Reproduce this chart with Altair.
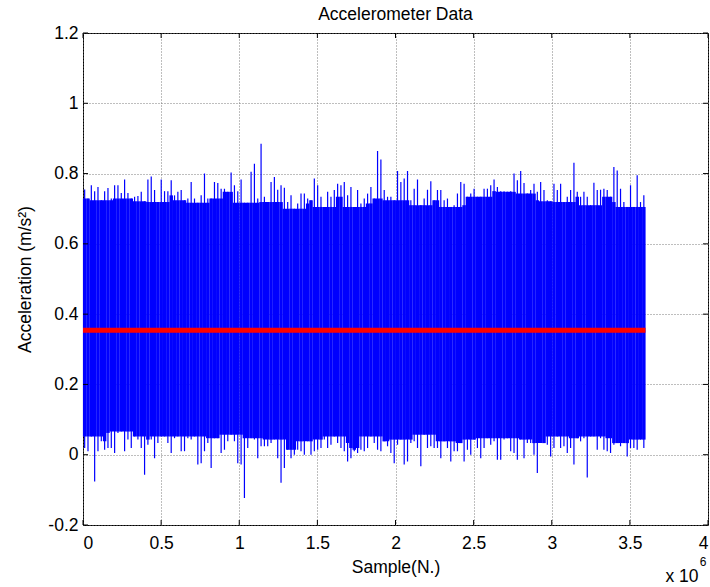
import altair as alt
import pandas as pd

# Upper envelope of the signal (per ~21,000-sample column)
upper = [
    0.755, 0.729, 0.767, 0.750, 0.762, 0.724, 0.750, 0.759, 0.729, 0.767,
    0.767, 0.745, 0.783, 0.745, 0.729, 0.734, 0.736, 0.748, 0.721, 0.783,
    0.792, 0.753, 0.719, 0.783, 0.750, 0.750, 0.781, 0.738, 0.748, 0.753,
    0.724, 0.729, 0.776, 0.729, 0.717, 0.738, 0.800, 0.729, 0.729, 0.776,
    0.773, 0.757, 0.757,
    0.748, 0.803, 0.767, 0.750, 0.783, 0.717, 0.717, 0.805, 0.828, 0.729,
    0.885, 0.734, 0.719, 0.776, 0.790, 0.754, 0.767, 0.760, 0.719, 0.738,
    0.700, 0.715, 0.743, 0.743, 0.729, 0.724, 0.786, 0.767, 0.734, 0.705,
    0.748, 0.734, 0.753, 0.771, 0.767, 0.776, 0.738, 0.762, 0.705, 0.753,
    0.715,
    0.729, 0.743, 0.762, 0.729, 0.864, 0.840, 0.753, 0.734, 0.734, 0.724,
    0.807, 0.776, 0.786, 0.807, 0.724, 0.757, 0.783, 0.710, 0.729, 0.754,
    0.778, 0.724, 0.753, 0.753, 0.724, 0.729, 0.705, 0.710, 0.743, 0.776,
    0.771, 0.734, 0.743, 0.757, 0.734, 0.734, 0.757, 0.757, 0.767, 0.783,
    0.762, 0.750, 0.750,
    0.748, 0.750, 0.800, 0.781, 0.807, 0.773, 0.743, 0.753, 0.771, 0.748,
    0.776, 0.753, 0.724, 0.721, 0.771, 0.753, 0.771, 0.719, 0.734, 0.753,
    0.831, 0.748, 0.734, 0.748, 0.734, 0.710, 0.774, 0.753, 0.754, 0.757,
    0.753, 0.734, 0.819, 0.809, 0.757, 0.719, 0.705, 0.767, 0.705, 0.795,
    0.719, 0.738,
]

# Lower envelope of the signal (same columns)
lower = [
    0.019, 0.010, 0.052, -0.076, 0.010, 0.038, 0.014, 0.019, 0.019, 0.005,
    0.062, 0.066, 0.010, 0.043, 0.019, 0.052, 0.043, 0.019, -0.057, 0.028,
    0.043, -0.010, 0.033, 0.052, 0.052, 0.033, 0.005, 0.047, 0.052, 0.010,
    0.010, 0.047, 0.043, 0.052, -0.028, -0.024, 0.010, 0.033, -0.038, 0.047,
    0.047, 0.005, 0.014,
    0.038, 0.057, 0.038, -0.024, -0.028, -0.123, 0.019, 0.047, 0.043, -0.010,
    0.024, 0.024, 0.024, 0.033, 0.043, -0.010, -0.080, -0.038, 0.014, -0.010,
    0.000, 0.014, 0.010, 0.000, 0.038, 0.000, 0.010, 0.014, 0.019, 0.043,
    0.019, 0.028, 0.052, 0.033, 0.019, 0.010, -0.019, -0.010, 0.010, 0.005,
    0.014,
    0.010, 0.019, 0.052, 0.033, 0.014, 0.010, 0.038, 0.024, 0.005, -0.024,
    0.028, 0.043, -0.028, -0.019, 0.033, 0.038, 0.019, -0.033, 0.057, 0.019,
    0.024, 0.019, 0.019, -0.010, 0.038, 0.019, -0.019, 0.010, 0.010, 0.033,
    -0.019, 0.014, 0.000, 0.043, 0.019, -0.010, 0.019, 0.047, 0.028, 0.038,
    -0.014, -0.014, 0.043,
    0.047, 0.010, 0.005, -0.014, 0.043, -0.010, 0.033, 0.033, 0.000, -0.052,
    0.033, 0.033, 0.028, -0.005, 0.019, 0.052, 0.019, 0.024, 0.005, 0.019,
    -0.028, 0.047, 0.038, 0.047, -0.065, 0.052, 0.052, 0.014, 0.047, 0.014,
    0.010, 0.005, 0.028, 0.033, 0.024, 0.033, -0.005, 0.019, 0.019, 0.014,
    0.043, 0.019,
]

total_samples = [3600000]
mean_value = [0.354]
x_ticks = [0, 500000, 1000000, 1500000, 2000000, 2500000, 3000000, 3500000, 4000000]
y_ticks = [-0.2, 0, 0.2, 0.4, 0.6, 0.8, 1.0, 1.2]

W, H = 625, 492
FS = 17.5
n = len(upper)
span = total_samples[0]
df = pd.DataFrame({
    "sample": [(i + 0.5) * span / n for i in range(n)],
    "hi": upper,
    "lo": lower,
})
mean_df = pd.DataFrame({"start": [0], "end": [span], "mean": mean_value})
xt_df = pd.DataFrame({"xt": x_ticks})
yt_df = pd.DataFrame({"yt": y_ticks})

FONT = "Liberation Sans"
XT = "Sample(N.)"
YT = "Acceleration (m/s²)"

xscale = alt.Scale(domain=[0, 4000000], nice=False, zero=False)
yscale = alt.Scale(domain=[-0.2, 1.2], nice=False, zero=False)
xaxis = alt.Axis(values=x_ticks, labelExpr="'' + datum.value / 1000000", grid=True,
                 ticks=False, domain=False, labelPadding=9,
                 titleX=W / 2, titleY=42, titleBaseline="middle", titleAlign="center")
yaxis = alt.Axis(values=y_ticks, labelExpr="'' + datum.value", grid=True,
                 ticks=False, domain=False, labelPadding=5,
                 titleX=-58, titleY=H / 2, titleBaseline="middle", titleAlign="center",
                 titleAngle=270)

base = alt.Chart(df)

thin = base.mark_rule(color="#0000FF", strokeWidth=1.2).encode(
    x=alt.X("sample:Q", scale=xscale, axis=xaxis, title=XT),
    y=alt.Y("lo:Q", scale=yscale, axis=yaxis, title=YT),
    y2="hi:Q",
)

core = base.transform_window(
    core_hi="min(hi)", core_lo="max(lo)", frame=[-3, 3]
).mark_rule(color="#0000FF", strokeWidth=3.5).encode(
    x=alt.X("sample:Q", scale=xscale, title=XT),
    y=alt.Y("core_lo:Q", scale=yscale, title=YT),
    y2="core_hi:Q",
)

mean_line = alt.Chart(mean_df).mark_rule(color="#FF0000", strokeWidth=5).encode(
    x=alt.X("start:Q", scale=xscale, title=XT),
    x2="end:Q",
    y=alt.Y("mean:Q", scale=yscale, title=YT),
)

tick_len = 5
bottom_ticks = alt.Chart(xt_df).mark_rule(color="black").encode(
    x=alt.X("xt:Q", scale=xscale, title=XT), y=alt.value(H), y2=alt.value(H - tick_len))
top_ticks = alt.Chart(xt_df).mark_rule(color="black").encode(
    x=alt.X("xt:Q", scale=xscale, title=XT), y=alt.value(0), y2=alt.value(tick_len))
left_ticks = alt.Chart(yt_df).mark_rule(color="black").encode(
    y=alt.Y("yt:Q", scale=yscale, title=YT), x=alt.value(0), x2=alt.value(tick_len))
right_ticks = alt.Chart(yt_df).mark_rule(color="black").encode(
    y=alt.Y("yt:Q", scale=yscale, title=YT), x=alt.value(W), x2=alt.value(W - tick_len))

mult = alt.Chart(pd.DataFrame({"t": ["x 10"]})).mark_text(
    font=FONT, fontSize=FS, color="black", align="center", baseline="middle"
).encode(x=alt.value(599), y=alt.value(544), text="t:N")
expo = alt.Chart(pd.DataFrame({"t": ["6"]})).mark_text(
    font=FONT, fontSize=12, color="black", align="center", baseline="middle"
).encode(x=alt.value(620), y=alt.value(529), text="t:N")
title_text = alt.Chart(pd.DataFrame({"t": ["Accelerometer Data"]})).mark_text(
    font=FONT, fontSize=FS, color="black", align="center", baseline="alphabetic"
).encode(x=alt.value(W / 2), y=alt.value(-13), text="t:N")

chart = alt.layer(
    thin, core, mean_line, bottom_ticks, top_ticks, left_ticks, right_ticks,
    mult, expo, title_text
).properties(
    width=W, height=H,
    autosize=alt.AutoSizeParams(type="none"),
    padding={"left": 83, "top": 33, "right": 2, "bottom": 62},
    background="white",
).configure_view(
    stroke="black", strokeWidth=1
).configure_axis(
    labelFont=FONT, labelFontSize=FS, labelColor="black",
    titleFont=FONT, titleFontSize=FS, titleFontWeight="normal", titleColor="black",
    gridColor="#707070", gridDash=[1, 2], gridWidth=1, gridOpacity=0.9,
)

chart.save("out.html", embed_options={"renderer": "svg", "actions": False})
